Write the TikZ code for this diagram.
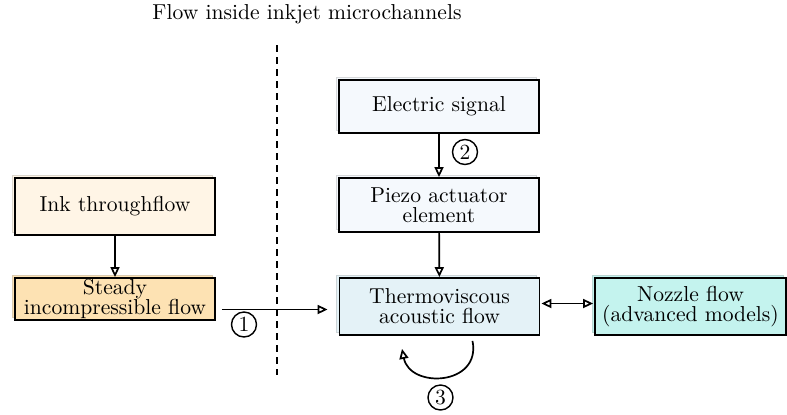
\documentclass[tikz,border=0pt]{standalone}
\usetikzlibrary{arrows.meta,shadows,calc}
\definecolor{inkcream}{HTML}{FFF5E6}
\definecolor{steadyorange}{HTML}{FDE2B3}
\definecolor{signalblue}{HTML}{F5F9FD}
\definecolor{acoustic}{HTML}{E4F2F7}
\definecolor{nozzlecyan}{HTML}{C4F3EE}
\begin{document}
\begin{tikzpicture}[x=0.5pt,y=-0.5pt,
  every node/.style={font=\fontsize{10.8}{10}\selectfont},
  block/.style={draw=black, line width=0.9pt, fill=#1, align=center,
    inner sep=0.5pt, minimum width=100pt, minimum height=27pt,
    copy shadow={shadow xshift=-1.5pt, shadow yshift=1.5pt, fill=#1,
      draw=#1!80!black!70, line width=0.5pt}},
  flow/.style={line width=0.85pt, -{Triangle[open,length=5pt,width=4.5pt]}},
  twoway/.style={line width=0.85pt,
    {Triangle[open,length=5pt,width=4.5pt]}-{Triangle[open,length=5pt,width=4.5pt]}},
  stepnum/.style={circle, draw, line width=0.7pt, inner sep=0pt, minimum size=12.5pt},
]
\useasboundingbox (0,0) rectangle (787,414);

% heading and divider
\node (title) at (307,14) {Flow inside inkjet microchannels};
\coordinate (divtop) at (277,45);
\coordinate (divbot) at (277,375);
\draw[line width=0.85pt, dash pattern=on 3.5pt off 2.5pt] (divtop) -- (divbot);

% blocks
\node[block=inkcream, minimum height=28.5pt] (ink) at (115,206.5) {Ink throughflow};
\node[block=steadyorange, minimum height=21pt] (steady) at (115,299) {Steady\\incompressible flow};
\node[block=signalblue, minimum height=26.5pt] (signal) at (439,106.5) {Electric signal};
\node[block=signalblue] (piezo) at (439,205) {Piezo actuator\\element};
\node[block=acoustic, minimum height=28.5pt] (thermo) at (439.5,306.5) {Thermoviscous\\acoustic flow};
\node[block=nozzlecyan, minimum height=28.5pt, minimum width=95.5pt] (nozzle) at (690.5,306.5) {Nozzle flow\\(advanced models)};

% connectors
\draw[flow] (ink) -- (steady);
\draw[flow] (signal) -- (piezo);
\draw[flow] (piezo) -- (thermo);
\draw[flow] ($(steady.east |- thermo.west)+(6,3)$) -- ($(thermo.west)+(-11,3)$);
\draw[twoway] ($(thermo.east)+(1,-3)$) -- ($(nozzle.west)+(-1,-3)$);
\draw[flow] ($(thermo.south)+(33,5)$) .. controls +(9,45) and +(8,40) .. ($(thermo.south)+(-37.5,13)$);

% step numbers
\node[stepnum] (n1) at (244,324.5) {1};
\node[stepnum] (n2) at (465,152) {2};
\node[stepnum] (n3) at (440.5,397.5) {3};
\end{tikzpicture}
\end{document}
